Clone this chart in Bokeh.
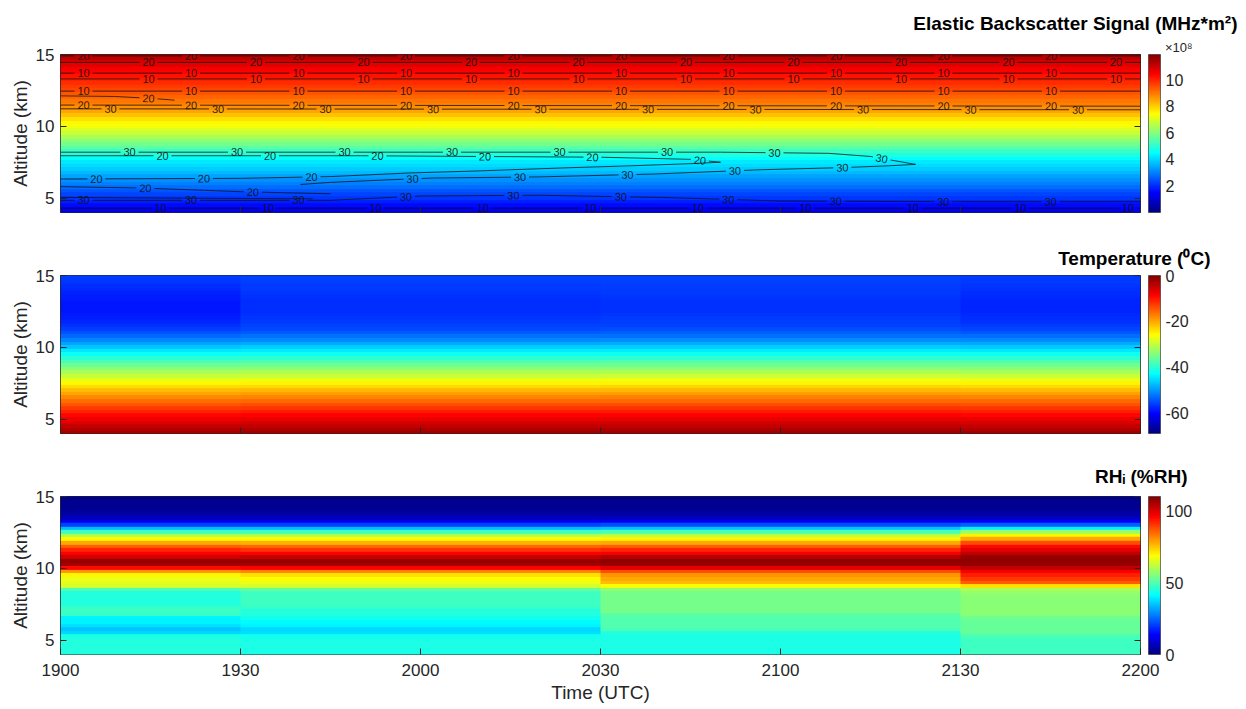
import numpy as np
from bokeh.plotting import figure
from bokeh.models import (LinearColorMapper, ColorBar, FixedTicker, LinearAxis,
                          Title, Range1d, ColumnDataSource)
from bokeh.layouts import column
from bokeh.embed import file_html
from bokeh.resources import INLINE
from bokeh.core.properties import value

# ------------------------------------------------------------------ data
time_tick_minutes = [0, 30, 60, 90, 120, 150, 180]
time_tick_labels = ["1900", "1930", "2000", "2030", "2100", "2130", "2200"]
altitude_ticks = [5, 10, 15]
sounding_minutes = [0, 60, 120, 180]          # 1900, 2000, 2100, 2200 UTC

altitude_km = [4.0, 4.25, 4.5, 4.75, 5.0, 5.25, 5.5, 5.75, 6.0, 6.25, 6.5, 6.75,
               7.0, 7.25, 7.5, 7.75, 8.0, 8.25, 8.5, 8.75, 9.0, 9.25, 9.5, 9.75,
               10.0, 10.25, 10.5, 10.75, 11.0, 11.25, 11.5, 11.75, 12.0, 12.25,
               12.5, 12.75, 13.0, 13.25, 13.5, 13.75, 14.0, 14.25, 14.5, 14.75, 15.0]

# elastic backscatter signal, units of 1e8 MHz*m^2
backscatter_e8 = [1.2, 1.4, 1.6, 1.85, 2.1, 2.3, 2.5, 2.75, 3.0, 3.2, 3.4, 3.65,
                  3.9, 4.05, 4.2, 4.5, 4.8, 5.15, 5.5, 5.8, 6.1, 6.45, 6.8, 7.05,
                  7.3, 7.5, 7.8, 8.15, 8.5, 8.7, 8.9, 9.05, 9.25, 9.4, 9.6, 9.75,
                  9.9, 10.05, 10.2, 10.4, 10.55, 10.75, 10.9, 11.2, 11.5]

temperature_1900 = [-2.3, -3.5, -4.8, -6.2, -7.6, -9.1, -10.8, -12.5, -14.3, -16.1, -17.9, -19.7,
                    -21.5, -23.5, -25.5, -27.6, -29.7, -31.8, -33.9, -36.0, -38.1, -40.3, -42.5, -44.7,
                    -46.9, -49.1, -51.3, -53.2, -54.9, -56.1, -57.0, -57.8, -58.3, -58.6, -58.8, -58.9,
                    -58.9, -58.7, -58.4, -58.0, -57.6, -57.2, -56.8, -56.4, -56.0]
temperature_2000 = [-2.0, -3.2, -4.5, -5.9, -7.3, -8.8, -10.5, -12.2, -14.0, -15.8, -17.6, -19.4,
                    -21.2, -23.2, -25.2, -27.3, -29.4, -31.5, -33.6, -35.7, -37.8, -40.0, -42.2, -44.4,
                    -46.6, -48.8, -51.0, -52.8, -54.3, -55.3, -56.0, -56.5, -56.8, -57.0, -57.2, -57.3,
                    -57.3, -57.2, -57.0, -56.8, -56.6, -56.4, -56.2, -56.0, -55.8]
temperature_2100 = [-1.9, -3.1, -4.4, -5.8, -7.2, -8.7, -10.4, -12.1, -13.9, -15.7, -17.5, -19.3,
                    -21.1, -23.1, -25.1, -27.2, -29.3, -31.4, -33.5, -35.6, -37.7, -39.9, -42.1, -44.3,
                    -46.5, -48.7, -50.9, -52.6, -54.1, -55.1, -55.8, -56.3, -56.6, -56.8, -57.0, -57.1,
                    -57.1, -57.0, -56.8, -56.6, -56.4, -56.2, -56.0, -55.8, -55.6]
temperature_2200 = [-2.1, -3.3, -4.6, -6.0, -7.4, -8.9, -10.6, -12.3, -14.1, -15.9, -17.7, -19.5,
                    -21.3, -23.3, -25.3, -27.4, -29.5, -31.6, -33.7, -35.8, -37.9, -40.1, -42.3, -44.5,
                    -46.7, -48.9, -51.1, -53.0, -54.6, -55.7, -56.5, -57.0, -57.4, -57.6, -57.7, -57.8,
                    -57.8, -57.7, -57.5, -57.3, -57.0, -56.8, -56.6, -56.4, -56.2]

rhi_1900 = [45, 45, 45, 45, 45, 44, 37, 35, 38, 40, 40, 47,
            48, 47, 45, 45, 45, 45, 50, 64, 66, 67, 70, 80,
            95, 106, 107, 101, 96, 92, 86, 78, 69, 60, 48, 34,
            21, 12, 7, 4, 3, 2, 2, 1, 1]
rhi_2000 = [44, 44, 44, 44, 44, 43, 38, 37, 40, 41, 43, 45,
            45, 47, 48, 48, 48, 48, 52, 64, 67, 69, 72, 82,
            96, 106, 107, 102, 96, 91, 85, 77, 69, 60, 48, 34,
            21, 12, 7, 4, 3, 2, 2, 1, 1]
rhi_2100 = [44, 44, 44, 44, 44, 44, 45, 49, 50, 50, 50, 51,
            54, 54, 54, 54, 54, 54, 57, 68, 76, 78, 80, 88,
            99, 107, 108, 104, 97, 92, 86, 78, 70, 61, 49, 35,
            22, 12, 7, 4, 3, 2, 2, 1, 1]
rhi_2200 = [48, 48, 48, 48, 48, 49, 52, 52, 52, 52, 53, 56,
            56, 56, 56, 56, 56, 57, 60, 72, 86, 90, 93, 97,
            103, 107, 108, 107, 103, 99, 95, 88, 78, 70, 58, 40,
            24, 13, 7, 4, 3, 2, 2, 1, 1]

# contour lines drawn over the backscatter field (level, minutes after 1900, altitude km)
contour_levels = [20, 20, 10, 10, 10, 20, 20, 30, 30, 20, 20, 10, 30, 10]
contour_minutes = [
    [0, 180],
    [0, 180],
    [0, 180],
    [0, 180],
    [0, 180],
    [0, 9, 15, 19],
    [0, 180],
    [0, 180],
    [0, 60, 110, 128, 135, 142.5, 138, 130, 117, 99, 80, 62, 45, 40],
    [0, 50, 90, 105, 110, 105, 95, 85, 70, 58, 45, 30, 0],
    [0, 14, 30, 45],
    [0, 20, 42],
    [0, 45, 60, 80, 100, 120, 150, 180],
    [0, 180],
]
contour_alt_km = [
    [14.9, 14.9],
    [14.45, 14.45],
    [13.7, 13.7],
    [13.3, 13.3],
    [12.45, 12.45],
    [12.12, 12.08, 11.95, 11.82],
    [11.48, 11.40],
    [11.22, 11.15],
    [8.2, 8.2, 8.2, 8.12, 7.9, 7.35, 7.25, 7.12, 6.98, 6.68, 6.48, 6.4, 6.1, 5.95],
    [7.95, 7.95, 7.85, 7.7, 7.5, 7.4, 7.25, 7.12, 6.9, 6.75, 6.5, 6.38, 6.33],
    [5.8, 5.7, 5.45, 5.3],
    [5.05, 5.0, 4.95],
    [4.85, 4.85, 5.15, 5.2, 5.05, 4.8, 4.75, 4.75],
    [4.3, 4.3],
]

# ------------------------------------------------------------------ style / layout
FONT = "Liberation Sans"
AXC = "#262626"
FRAME_W, FRAME_H = 1080, 158
T_MIN, T_MAX = 0, 180
ALT_MIN, ALT_MAX = 4, 15
SX = FRAME_W / (T_MAX - T_MIN)
SY = FRAME_H / (ALT_MAX - ALT_MIN)
DZ = altitude_km[1] - altitude_km[0]
contour_label_offset_px = [23, 88, 23, 88, 23, 88, 23, 50, 69, 102, 85, 68, 23, 100]


def jet_palette(n=256):
    out = []
    for i in range(n):
        v = i / (n - 1)
        r = min(max(1.5 - abs(4 * v - 3), 0), 1)
        g = min(max(1.5 - abs(4 * v - 2), 0), 1)
        b = min(max(1.5 - abs(4 * v - 1), 0), 1)
        out.append("#%02x%02x%02x" % (round(r * 255), round(g * 255), round(b * 255)))
    return out


JET = jet_palette()


def style_axis(ax):
    ax.major_tick_in = 6
    ax.major_tick_out = 0
    ax.minor_tick_line_color = None
    ax.major_tick_line_color = AXC
    ax.axis_line_color = None
    ax.major_label_text_font = FONT
    ax.major_label_text_font_size = "17px"
    ax.major_label_text_color = AXC
    ax.axis_label_text_font = FONT
    ax.axis_label_text_font_size = "19px"
    ax.axis_label_text_font_style = "normal"
    ax.axis_label_text_color = AXC


def make_panel(border_top, border_bottom, show_time, mapper, cb_ticks):
    p = figure(frame_width=FRAME_W, frame_height=FRAME_H,
               x_range=Range1d(T_MIN, T_MAX), y_range=Range1d(ALT_MIN, ALT_MAX),
               x_axis_type=None, y_axis_type=None,
               output_backend="svg", toolbar_location=None,
               min_border_left=60, min_border_right=100,
               min_border_top=border_top, min_border_bottom=border_bottom)
    p.outline_line_color = AXC
    p.outline_line_width = 1
    p.background_fill_color = "white"
    p.border_fill_color = "white"

    xb = LinearAxis(ticker=FixedTicker(ticks=time_tick_minutes, minor_ticks=[]))
    style_axis(xb)
    if show_time:
        xb.major_label_overrides = {t: l for t, l in zip(time_tick_minutes, time_tick_labels)}
        xb.major_label_standoff = 9
        xb.axis_label = "Time (UTC)"
        xb.axis_label_standoff = 3
    else:
        xb.major_label_overrides = {t: "" for t in time_tick_minutes}
        xb.major_label_standoff = 0
        xb.major_label_text_font_size = "0px"
    p.add_layout(xb, "below")

    yl = LinearAxis(ticker=FixedTicker(ticks=altitude_ticks, minor_ticks=[]),
                    axis_label="Altitude (km)")
    style_axis(yl)
    yl.major_label_standoff = 6
    yl.axis_label_standoff = 2
    p.add_layout(yl, "left")

    yr = LinearAxis(ticker=FixedTicker(ticks=altitude_ticks, minor_ticks=[]))
    style_axis(yr)
    yr.major_label_overrides = {t: "" for t in altitude_ticks}
    yr.major_label_standoff = 0
    yr.major_label_text_font_size = "0px"
    p.add_layout(yr, "right")

    cb = ColorBar(color_mapper=mapper, ticker=FixedTicker(ticks=cb_ticks, minor_ticks=[]),
                  width=12, height=FRAME_H, margin=0, padding=0, label_standoff=5,
                  location=(8, 0),
                  major_label_overrides={t: str(t) for t in cb_ticks},
                  major_label_text_font=FONT, major_label_text_font_size="16px",
                  major_label_text_color=AXC, major_tick_line_color=None,
                  minor_tick_line_color=None, bar_line_color=AXC, bar_line_width=0.6,
                  border_line_color=None, background_fill_color=None)
    p.add_layout(cb, "right")
    return p


def draw_profiles(p, profiles, mapper):
    # one image column per 30-minute slot, filled with the nearest sounding
    slots = list(zip(time_tick_minutes[:-1], time_tick_minutes[1:]))
    cols = []
    for a, b in slots:
        c = (a + b) / 2
        k = int(np.argmin([abs(c - s) for s in sounding_minutes]))
        cols.append(profiles[k])
    arr = np.array(cols, dtype=float).T
    p.image(image=[arr], x=T_MIN, y=altitude_km[0] - DZ / 2, dw=T_MAX - T_MIN,
            dh=DZ * len(altitude_km), color_mapper=mapper)


def add_title(p, text, align, offset, standoff, size, style, color):
    p.add_layout(Title(text=text, align=align, offset=offset, standoff=standoff,
                       text_font=FONT, text_font_size=size, text_font_style=style,
                       text_color=color, vertical_align="bottom"), "above")


# ------------------------------------------------------------------ panel 1: backscatter + contours
m1 = LinearColorMapper(palette=JET, low=0, high=11.9)
p1 = make_panel(54, 26, False, m1, [2, 4, 6, 8, 10])
p1.image(image=[np.array(backscatter_e8, dtype=float).reshape(-1, 1)], x=T_MIN,
         y=altitude_km[0] - DZ / 2, dw=T_MAX - T_MIN, dh=DZ * len(altitude_km), color_mapper=m1)

GAP = 9.0
STEP = 107.5
placed = []
line_xs, line_ys = [], []
lab_x, lab_y, lab_t, lab_a = [], [], [], []
for lvl, ts, als, off in zip(contour_levels, contour_minutes, contour_alt_km, contour_label_offset_px):
    px = np.asarray(ts, float) * SX
    py = np.asarray(als, float) * SY
    dx, dy = np.diff(px), np.diff(py)
    s = np.concatenate([[0.0], np.cumsum(np.hypot(dx, dy))])
    total = s[-1]
    kept = []
    for ls in np.arange(off, total - 6, STEP):
        x_ = float(np.interp(ls, s, px))
        y_ = float(np.interp(ls, s, py))
        if any(abs(x_ - qx) < 17 and abs(y_ - qy) < 11 for qx, qy in placed):
            continue
        placed.append((x_, y_))
        kept.append(ls)
        i = int(min(max(np.searchsorted(s, ls) - 1, 0), len(dx) - 1))
        ang = float(np.arctan2(dy[i], dx[i]))
        if ang > np.pi / 2:
            ang -= np.pi
        elif ang < -np.pi / 2:
            ang += np.pi
        lab_x.append(x_ / SX)
        lab_y.append(y_ / SY)
        lab_t.append(str(lvl))
        lab_a.append(ang)
    start = 0.0
    bounds = []
    for ls in kept:
        bounds.append((start, ls - GAP))
        start = ls + GAP
    bounds.append((start, total))
    for a, b in bounds:
        if b <= a:
            continue
        ss = np.concatenate([[a], s[(s > a) & (s < b)], [b]])
        line_xs.append(list(np.interp(ss, s, px) / SX))
        line_ys.append(list(np.interp(ss, s, py) / SY))

p1.multi_line(xs=line_xs, ys=line_ys, line_color="#101010", line_alpha=0.85, line_width=0.9)
p1.text(source=ColumnDataSource(dict(x=lab_x, y=lab_y, t=lab_t, a=lab_a)),
        x="x", y="y", text="t", angle="a", text_align="center", text_baseline="middle",
        text_font=value(FONT), text_font_size="11px", text_color="#111111", text_alpha=0.9)

add_title(p1, "\u00d710\u2078", "right", -52, 0, "13px", "normal", AXC)
add_title(p1, "Elastic Backscatter Signal (MHz*m\u00b2)", "right", -97, 7, "19px", "bold", "black")

# ------------------------------------------------------------------ panel 2: temperature
m2 = LinearColorMapper(palette=JET, low=-69, high=0)
p2 = make_panel(36, 21, False, m2, [-60, -40, -20, 0])
draw_profiles(p2, [temperature_1900, temperature_2000, temperature_2100, temperature_2200], m2)
add_title(p2, "Temperature (\u2070C)", "right", -70, 14, "19px", "bold", "black")

# ------------------------------------------------------------------ panel 3: RHi
m3 = LinearColorMapper(palette=JET, low=0, high=110)
p3 = make_panel(41, 50, True, m3, [0, 50, 100])
draw_profiles(p3, [rhi_1900, rhi_2000, rhi_2100, rhi_2200], m3)
add_title(p3, "RH\u1d62 (%RH)", "right", -47, 19, "19px", "bold", "black")

layout = column(p1, p2, p3, spacing=0)
open("out.html", "w").write(file_html(layout, INLINE))
